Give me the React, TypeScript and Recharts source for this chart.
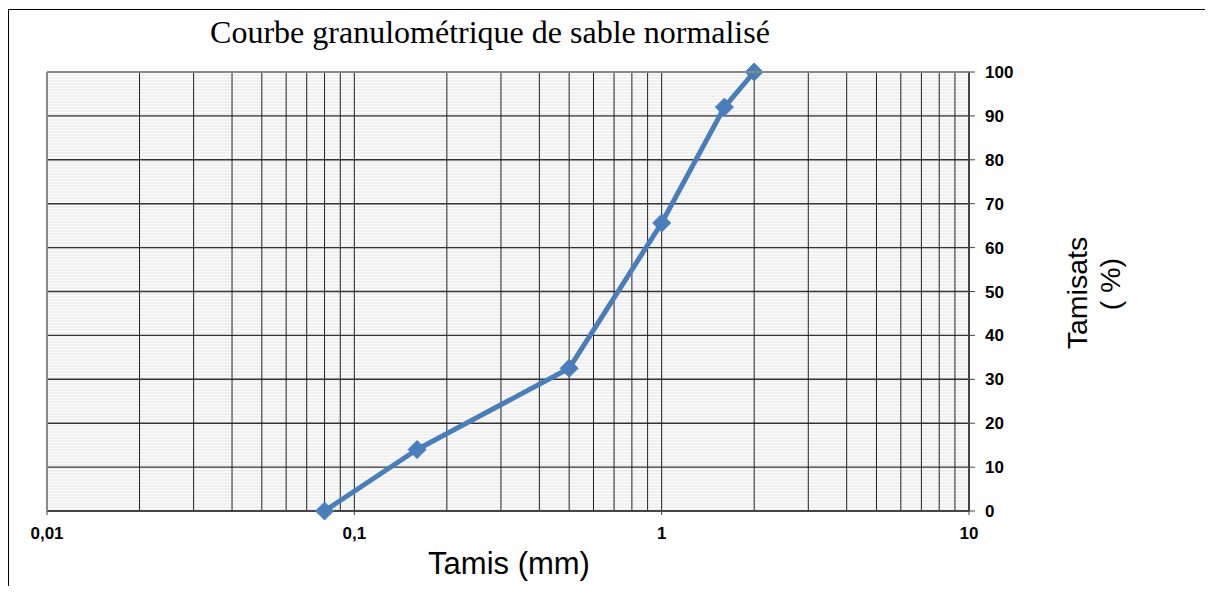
import React from 'react';
import { LineChart, Line, XAxis, YAxis, CartesianGrid } from 'recharts';

const sieveSizes = [0.08, 0.16, 0.5, 1, 1.6, 2];
const passingPercent = [0, 14, 32.5, 65.6, 92, 100];
const xTicks = [0.01, 0.1, 1, 10];
const yTicks = [0, 10, 20, 30, 40, 50, 60, 70, 80, 90, 100];
const xGridValues = [
  0.02, 0.03, 0.04, 0.05, 0.06, 0.07, 0.08, 0.09, 0.1,
  0.2, 0.3, 0.4, 0.5, 0.6, 0.7, 0.8, 0.9, 1,
  2, 3, 4, 5, 6, 7, 8, 9,
];
const chartTitle = 'Courbe granulométrique de sable normalisé';
const xTitle = 'Tamis (mm)';
const yTitleLine1 = 'Tamisats';
const yTitleLine2 = '( %)';

const data = sieveSizes.map((s, i) => ({ size: s, pct: passingPercent[i] }));

const W = 1204;
const H = 576;

const Diamond = (props: any) => {
  const { cx, cy } = props;
  if (cx == null || cy == null) return null;
  const r = 9;
  return (
    <path
      d={`M${cx},${cy - r} L${cx + r},${cy} L${cx},${cy + r} L${cx - r},${cy} Z`}
      fill="#4a7ebb"
      stroke="#4a7ebb"
      strokeWidth={1}
    />
  );
};

const fmt = (v: number) => String(v).replace('.', ',');

export default function App() {
  return (
    <div style={{ position: 'relative', width: W, height: H, marginTop: 1, borderTop: '1px solid #000', borderLeft: '1px solid #000' }}>
      <style>{`html,body{overflow:hidden}`}</style>
      <svg width={0} height={0} style={{ position: 'absolute' }}>
        <defs>
          <pattern id="stripes" width="8" height="3" patternUnits="userSpaceOnUse">
            <rect width="8" height="3" fill="#f0f0f0" />
            <rect width="8" height="1" y="0" fill="#fcfcfc" />
          </pattern>
        </defs>
      </svg>
      <LineChart
        width={W}
        height={H}
        data={data}
        margin={{ top: 62, left: 38, right: 184, bottom: 35 }}
      >
        <CartesianGrid
          fill="url(#stripes)"
          fillOpacity={1}
          stroke="#333"
          strokeWidth={1.4}
          vertical={false}
          horizontal={true}
        />
        <CartesianGrid
          stroke="#222"
          strokeWidth={1}
          horizontal={false}
          vertical={true}
          verticalValues={xGridValues}
        />
        <XAxis
          dataKey="size"
          type="number"
          scale="log"
          domain={[0.01, 10]}
          ticks={xTicks}
          tickFormatter={fmt}
          allowDataOverflow
          height={40}
          tickSize={4}
          tickMargin={12}
          axisLine={{ stroke: '#444', strokeWidth: 2 }}
          tickLine={{ stroke: '#444', strokeWidth: 1 }}
          tick={{ fill: '#000', fontSize: 17, fontWeight: 'bold', fontFamily: 'Liberation Sans, Arial, sans-serif' }}
          interval={0}
        />
        <YAxis
          orientation="right"
          type="number"
          domain={[0, 100]}
          ticks={yTicks}
          width={60}
          tickSize={6}
          tickMargin={10}
          axisLine={{ stroke: '#444', strokeWidth: 2 }}
          tickLine={{ stroke: '#444', strokeWidth: 1 }}
          tick={{ fill: '#000', fontSize: 17, fontWeight: 'bold', fontFamily: 'Liberation Sans, Arial, sans-serif' }}
          interval={0}
        />
        <Line
          type="linear"
          dataKey="pct"
          stroke="#4a7ebb"
          strokeWidth={5}
          strokeLinejoin="round"
          dot={<Diamond />}
          activeDot={false}
          isAnimationActive={false}
        />
      </LineChart>
      <svg width={W} height={H} style={{ position: 'absolute', left: 0, top: 0, pointerEvents: 'none' }}>
        <line x1={38} y1={62} x2={960} y2={62} stroke="#888" strokeWidth={2} />
        <line x1={38} y1={62} x2={38} y2={501} stroke="#888" strokeWidth={2} />
        <text x={481} y={33} textAnchor="middle" fontFamily="Liberation Serif, Times New Roman, serif" fontSize={32} fill="#000">
          {chartTitle}
        </text>
        <text x={500} y={564} textAnchor="middle" fontFamily="Liberation Sans, Arial, sans-serif" fontSize={31} fill="#000">
          {xTitle}
        </text>
        <text x={1078} y={283} textAnchor="middle" transform="rotate(-90 1078 283)" fontFamily="Liberation Sans, Arial, sans-serif" fontSize={28.5} fill="#000">
          {yTitleLine1}
        </text>
        <text x={1111} y={274} textAnchor="middle" transform="rotate(-90 1111 274)" fontFamily="Liberation Sans, Arial, sans-serif" fontSize={28.5} fill="#000">
          {yTitleLine2}
        </text>
      </svg>
    </div>
  );
}
